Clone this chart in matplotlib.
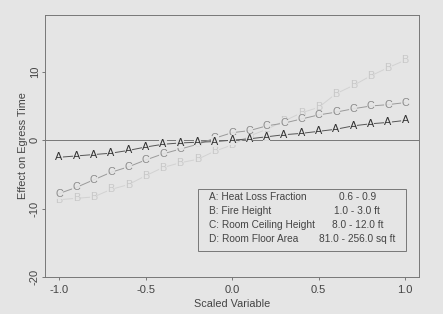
import matplotlib as mpl
mpl.use('Agg')
import matplotlib.pyplot as plt

plt.rcParams['font.family'] = ['Liberation Sans', 'DejaVu Sans']

scaled = [-1.0, -0.9, -0.8, -0.7, -0.6, -0.5, -0.4, -0.3, -0.2, -0.1, 0.0,
          0.1, 0.2, 0.3, 0.4, 0.5, 0.6, 0.7, 0.8, 0.9, 1.0]
effect_a = [-2.5, -2.3, -2.1, -1.9, -1.5, -1.0, -0.6, -0.4, -0.3, -0.2, 0.0,
            0.2, 0.5, 0.8, 1.0, 1.3, 1.6, 2.1, 2.4, 2.6, 2.9]
effect_b = [-8.7, -8.5, -8.3, -7.2, -6.5, -5.2, -4.0, -3.3, -2.8, -1.6, -0.7,
            0.6, 1.6, 2.8, 4.0, 4.8, 6.8, 8.0, 9.4, 10.6, 11.7]
effect_c = [-7.8, -6.9, -5.8, -4.7, -3.9, -2.9, -2.0, -1.3, -0.6, 0.3, 1.1,
            1.4, 2.1, 2.5, 3.1, 3.7, 4.1, 4.6, 5.0, 5.2, 5.5]

legend_names = ['A: Heat Loss Fraction', 'B: Fire Height',
                'C: Room Ceiling Height', 'D: Room Floor Area']
legend_ranges = ['0.6 - 0.9', '1.0 - 3.0 ft', '8.0 - 12.0 ft', '81.0 - 256.0 sq ft']

bg = '#e5e5e5'
fig = plt.figure(figsize=(4.43, 3.14), dpi=100, facecolor=bg)
ax = fig.add_axes([0.102, 0.118, 0.844, 0.834], facecolor=bg)

ax.axhline(0, color='#777777', lw=0.7, zorder=1)

series = [('B', effect_b, '#c8c8c8', '#d2d2d2'),
          ('C', effect_c, '#8a8a8a', '#9a9a9a'),
          ('A', effect_a, '#303030', '#555555')]
for letter, vals, tcol, lcol in series:
    ax.plot(scaled, vals, color=lcol, lw=0.7, zorder=2)
    for x, y in zip(scaled, vals):
        ax.text(x, y, letter, ha='center', va='center', fontsize=7.8, color=tcol,
                zorder=3, bbox=dict(fc=bg, ec='none', pad=0.1, alpha=0.9))

ax.set_xlim(-1.08, 1.08)
ax.set_ylim(-20, 18.3)
ax.set_xticks([-1.0, -0.5, 0.0, 0.5, 1.0])
ax.set_xticklabels(['-1.0', '-0.5', '0.0', '0.5', '1.0'])
ax.set_yticks([-20, -10, 0, 10])
ax.set_yticklabels(['-20', '-10', '0', '10'], rotation=90, va='center')
ax.tick_params(direction='out', length=2.5, width=0.6, colors='#666666',
               labelcolor='#444444', labelsize=8)
ax.tick_params(axis='y', pad=1.5)
ax.tick_params(axis='x', pad=3)
for sp in ax.spines.values():
    sp.set_color('#777777')
    sp.set_linewidth(0.7)

ax.set_xlabel('Scaled Variable', fontsize=7.8, color='#444444', labelpad=3)
ax.set_ylabel('Effect on Egress Time', fontsize=7.8, color='#444444', labelpad=1)

# legend box
leg_x0, leg_x1 = 0.41, 0.965
leg_y0, leg_y1 = 0.10, 0.335
ax.add_patch(plt.Rectangle((leg_x0, leg_y0), leg_x1 - leg_x0, leg_y1 - leg_y0,
                           transform=ax.transAxes, fc=bg, ec='#777777', lw=0.7, zorder=4))
rows = [0.307, 0.253, 0.199, 0.145]
for name, rng, ry in zip(legend_names, legend_ranges, rows):
    ax.text(0.437, ry, name, transform=ax.transAxes, fontsize=7.3, color='#444444',
            va='center', ha='left', zorder=5)
    ax.text(0.835, ry, rng, transform=ax.transAxes, fontsize=7.3, color='#444444',
            va='center', ha='center', zorder=5)

fig.savefig('out.png', dpi=100, facecolor=bg)
